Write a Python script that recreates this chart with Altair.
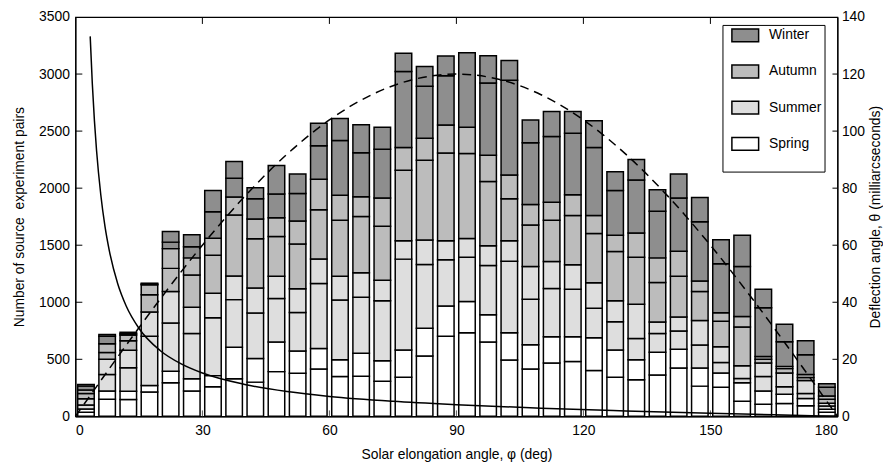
import altair as alt
import pandas as pd

# ---- data ----
phi_centers = [2.5, 7.5, 12.5, 17.5, 22.5, 27.5, 32.5, 37.5, 42.5, 47.5, 52.5, 57.5,
               62.5, 67.5, 72.5, 77.5, 82.5, 87.5, 92.5, 97.5, 102.5, 107.5, 112.5, 117.5,
               122.5, 127.5, 132.5, 137.5, 142.5, 147.5, 152.5, 157.5, 162.5, 167.5, 172.5, 177.5]

spring1 = [35,150,147,213,294,222,259,329,300,392,378,415,349,352,308,343,530,703,732,651,493,415,467,481,401,343,320,363,424,265,256,133,107,112,92,35]
spring2 = [30,72,72,58,101,107,98,276,207,259,195,179,147,201,179,239,242,265,274,239,239,213,230,216,288,239,176,199,164,159,124,161,115,81,64,28]
summer1 = [35,144,207,432,423,397,508,418,398,381,338,570,524,490,527,796,559,404,389,433,628,398,424,418,259,248,187,164,161,201,93,37,128,67,44,27]
summer2 = [55,135,153,211,277,231,213,208,219,196,207,216,208,216,179,161,214,167,164,173,179,288,236,214,222,184,300,101,121,216,138,113,117,120,114,25]
autumn1 = [45,59,84,152,202,282,334,533,432,348,392,430,490,493,473,617,700,769,744,562,369,363,361,432,432,430,412,346,358,254,222,340,33,40,26,35]
autumn2 = [30,77,49,87,173,150,150,158,173,165,202,268,219,173,248,201,193,245,230,230,207,179,158,181,159,144,213,216,219,92,75,92,24,18,26,29]
winter1 = [35,66,13,7,57,98,231,164,179,207,242,294,481,386,426,666,455,433,0,634,830,542,576,539,596,392,464,409,467,519,429,438,427,216,173,77]
winter2 = [15,14,12,7,93,104,187,147,95,251,170,196,193,245,193,159,173,173,654,239,173,199,219,190,234,164,179,188,210,213,211,274,164,153,124,29]

# dashed fitted curve (left axis)
fit_phi = [0, 5, 10, 15, 20, 30, 40, 50, 60, 70, 80, 90, 100, 110, 120, 130, 140, 150, 160, 170, 180]
fit_val = [0, 261, 521, 776, 1026, 1500, 1928, 2298, 2598, 2819, 2954, 3000, 2954, 2819, 2598, 2298, 1928, 1500, 1026, 521, 0]

# solid deflection-angle curve (right axis)
defl_phi = [3.5, 4, 4.5, 5, 6, 7, 8, 10, 12, 15, 20, 25, 30, 40, 50, 60, 75, 90, 110, 130, 150, 165, 180]
defl_val = [133.2, 116.6, 103.6, 93.2, 77.7, 66.5, 58.2, 46.5, 38.7, 30.9, 23.1, 18.4, 15.2, 11.2, 8.7, 7.0, 5.3, 4.1, 2.85, 1.9, 1.09, 0.54, 0.0]

season_order = ["Winter", "Autumn", "Summer", "Spring"]
season_colors = ["#8e8e8e", "#bcbcbc", "#dedede", "#ffffff"]

x_ticks = [0, 30, 60, 90, 120, 150, 180]
y_left_ticks = [0, 500, 1000, 1500, 2000, 2500, 3000, 3500]
y_right_ticks = [0, 20, 40, 60, 80, 100, 120, 140]

# ---- build tables ----
subseries = [("Spring", spring1), ("Spring", spring2), ("Summer", summer1), ("Summer", summer2),
             ("Autumn", autumn1), ("Autumn", autumn2), ("Winter", winter1), ("Winter", winter2)]
half_w = 1.95
rows = []
for i, c in enumerate(phi_centers):
    base = 0
    for season, vals in subseries:
        v = vals[i]
        if v > 0:
            rows.append(dict(x0=c - half_w, x1=c + half_w, y0=base, y1=base + v, season=season))
        base += v
bars_df = pd.DataFrame(rows)
fit_df = pd.DataFrame({"phi": fit_phi, "val": fit_val})
defl_df = pd.DataFrame({"phi": defl_phi, "val": defl_val})
xt_df = pd.DataFrame({"t": x_ticks[1:-1]})
ylt_df = pd.DataFrame({"t": y_left_ticks[1:-1]})
yrt_df = pd.DataFrame({"t": y_right_ticks[1:-1]})

W, H = 769, 403
FONT = "Liberation Sans"

xscale = alt.Scale(domain=[0, 180], nice=False, zero=False)
ylscale = alt.Scale(domain=[0, 3500], nice=False)
yrscale = alt.Scale(domain=[0, 140], nice=False)

x_axis = alt.Axis(values=x_ticks, title="Solar elongation angle, φ (deg)", ticks=False,
                  labelPadding=7, titlePadding=11, grid=False, format="d")
yl_axis = alt.Axis(values=y_left_ticks, title="Number of source\u00a0 experiment pairs", ticks=False,
                   labelPadding=6, titlePadding=12, grid=False, format="d")
yr_axis = alt.Axis(values=y_right_ticks, title="Deflection angle, θ (milliarcseconds)", ticks=False,
                   orient="right", labelPadding=4, titlePadding=4, grid=False, format="d",
                   titleAngle=270, titleBaseline="top")

bars = alt.Chart(bars_df).mark_rect(stroke="black", strokeWidth=1.5).encode(
    x=alt.X("x0:Q", scale=xscale, axis=x_axis),
    x2="x1:Q",
    y=alt.Y("y0:Q", scale=ylscale, axis=yl_axis),
    y2="y1:Q",
    fill=alt.Fill("season:N", scale=alt.Scale(domain=season_order, range=season_colors),
                  legend=alt.Legend(title=" ", titleOrient="bottom", titleFontSize=14,
                                    titlePadding=2, orient="none", legendX=653, legendY=8,
                                    padding=3, fillColor="white", strokeColor="black",
                                    symbolType="M-2,-0.96H2V0.96H-2Z", symbolSize=182,
                                    symbolStrokeColor="black", symbolStrokeWidth=1.5,
                                    symbolOffset=12.5, labelOffset=16.5, rowPadding=17.5,
                                    labelFontSize=14, labelFont=FONT, labelColor="black")),
)

dashed = alt.Chart(fit_df).mark_line(color="black", strokeWidth=1.5, strokeDash=[9, 6],
                                     interpolate="monotone").encode(
    x=alt.X("phi:Q", scale=xscale, axis=x_axis),
    y=alt.Y("val:Q", scale=ylscale, axis=yl_axis),
)

left_ticks = alt.Chart(ylt_df).mark_rule(color="black", strokeWidth=1).encode(
    y=alt.Y("t:Q", scale=ylscale, axis=yl_axis), x=alt.value(0), x2=alt.value(7))
top_ticks = alt.Chart(xt_df).mark_rule(color="black", strokeWidth=1).encode(
    x=alt.X("t:Q", scale=xscale, axis=x_axis), y=alt.value(0), y2=alt.value(7))
bottom_ticks = alt.Chart(xt_df).mark_rule(color="#555555", strokeWidth=1).encode(
    x=alt.X("t:Q", scale=xscale, axis=x_axis), y=alt.value(H - 6), y2=alt.value(H))

solid = alt.Chart(defl_df).mark_line(color="black", strokeWidth=1.5, interpolate="monotone").encode(
    x=alt.X("phi:Q", scale=xscale, axis=x_axis),
    y=alt.Y("val:Q", scale=yrscale, axis=yr_axis),
)
right_ticks = alt.Chart(yrt_df).mark_rule(color="black", strokeWidth=1).encode(
    y=alt.Y("t:Q", scale=yrscale, axis=yr_axis), x=alt.value(W - 5), x2=alt.value(W))

left = alt.layer(bottom_ticks, bars, dashed, left_ticks, top_ticks)
right = alt.layer(solid, right_ticks)

chart = alt.layer(left, right).resolve_scale(y="independent").properties(
    width=W, height=H,
    autosize=alt.AutoSizeParams(type="none"),
    padding={"left": 68, "top": 7, "right": 46, "bottom": 47},
).configure(font=FONT).configure_axis(
    labelFontSize=14, titleFontSize=14, labelColor="black", titleColor="black",
    titleFontWeight="normal", domainColor="black", domainWidth=1.2, labelFont=FONT, titleFont=FONT,
).configure_view(stroke="black", strokeWidth=1.2)

chart.save("out.html", embed_options={"renderer": "svg", "actions": False})
